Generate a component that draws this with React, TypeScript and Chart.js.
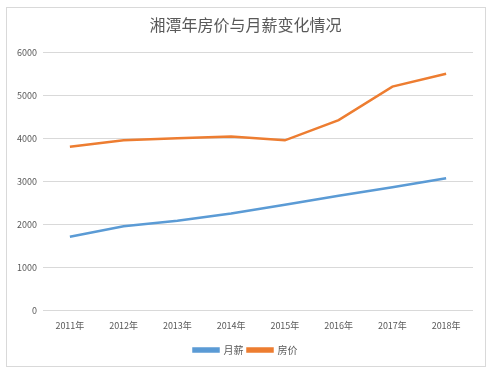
import React, { useEffect, useRef } from "react";
import { Chart, registerables } from "chart.js";

Chart.register(...registerables);

const categories = ["2011年", "2012年", "2013年", "2014年", "2015年", "2016年", "2017年", "2018年"];
const salary = [1710, 1950, 2080, 2250, 2450, 2660, 2860, 3070];
const housePrice = [3800, 3950, 4000, 4040, 3950, 4420, 5200, 5500];
const seriesNames = ["月薪", "房价"];
const titleText = "湘潭年房价与月薪变化情况";

const FONT = "'Noto Sans CJK SC', 'Noto Sans', sans-serif";

export default function App() {
  const ref = useRef<HTMLCanvasElement | null>(null);
  useEffect(() => {
    if (!ref.current) return;
    const chart = new Chart(ref.current, {
      type: "line",
      data: {
        labels: categories,
        datasets: [
          {
            label: seriesNames[0],
            data: salary,
            borderColor: "#5B9BD5",
            backgroundColor: "#5B9BD5",
            borderWidth: 2.5,
            pointRadius: 0,
            tension: 0,
          },
          {
            label: seriesNames[1],
            data: housePrice,
            borderColor: "#ED7D31",
            backgroundColor: "#ED7D31",
            borderWidth: 2.5,
            pointRadius: 0,
            tension: 0,
          },
        ],
      },
      options: {
        animation: false,
        responsive: false,
        maintainAspectRatio: false,
        layout: { padding: { left: 0, right: 4, top: 0, bottom: 12 } },
        plugins: {
          title: {
            display: true,
            text: titleText,
            color: "#595959",
            font: { family: FONT, size: 16, weight: "normal" },
            padding: { top: 15, bottom: 18 },
          },
          legend: {
            position: "bottom",
            labels: {
              color: "#595959",
              font: { family: FONT, size: 10 },
              boxWidth: 25,
              boxHeight: 3,
              padding: 4,
            },
          },
          tooltip: { enabled: false },
        },
        scales: {
          x: {
            offset: true,
            grid: { display: false },
            border: { display: false },
            afterFit: (s: any) => {
              s.height += 8;
            },
            ticks: {
              color: "#595959",
              font: { family: FONT, size: 9 },
              padding: 2,
              maxRotation: 0,
            },
          },
          y: {
            min: 0,
            max: 6000,
            afterFit: (s: any) => {
              s.width = 43;
            },
            grid: { color: "#d9d9d9", drawTicks: false },
            border: { display: false },
            ticks: {
              stepSize: 1000,
              color: "#595959",
              font: { family: FONT, size: 9 },
              padding: 6,
              callback: (v: any) => String(v),
            },
          },
          y2: {
            position: "right",
            display: true,
            grid: { display: false },
            border: { display: false },
            ticks: { display: false },
            afterFit: (s: any) => {
              s.width = 18;
            },
          },
        },
      },
    });
    return () => chart.destroy();
  }, []);
  return (
    <div style={{ position: "absolute", left: 0, top: 0, width: 495, height: 377, background: "#fff" }}>
      <div
        style={{
          position: "absolute",
          left: 6,
          top: 7,
          width: 480,
          height: 360,
          border: "1px solid #d9d9d9",
          boxSizing: "border-box",
        }}
      />
      <canvas ref={ref} width={495} height={377} style={{ position: "absolute", left: 0, top: 0 }} />
    </div>
  );
}
